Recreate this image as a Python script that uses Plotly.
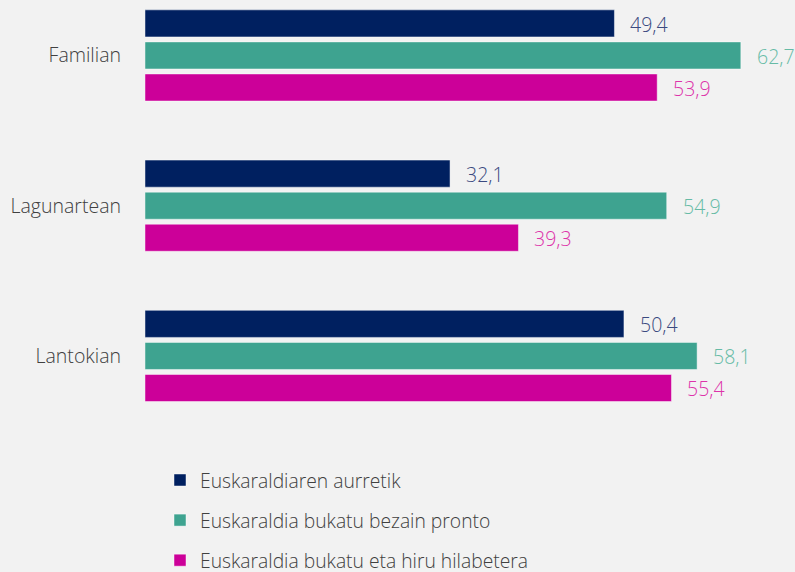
import plotly.graph_objects as go

categories = ["Familian", "Lagunartean", "Lantokian"]
series_names = ["Euskaraldiaren aurretik", "Euskaraldia bukatu bezain pronto",
                "Euskaraldia bukatu eta hiru hilabetera"]
values_before = [49.4, 32.1, 50.4]
values_end = [62.7, 54.9, 58.1]
values_after3 = [53.9, 39.3, 55.4]
label_before = ["49,4", "32,1", "50,4"]
label_end = ["62,7", "54,9", "58,1"]
label_after3 = ["53,9", "39,3", "55,4"]

bar_colors = ["#002060", "#3ea390", "#cc0099"]
text_colors = ["#3a4a80", "#66bba6", "#dd33aa"]

series = [values_before, values_end, values_after3]
labels = [label_before, label_end, label_after3]
label_yshift = [32, 0, -32]

FONT = "Open Sans"
TXT = "#404040"

fig = go.Figure()
annotations = []
for i, (name, vals, labs) in enumerate(zip(series_names, series, labels)):
    fig.add_trace(go.Bar(
        y=categories, x=vals, name=name, orientation="h",
        marker=dict(color=bar_colors[i], line=dict(color="rgba(255,255,255,0.45)", width=1)),
        legendgroup="g%d" % i,
        hoverinfo="skip",
    ))
    for c, v, t in zip(categories, vals, labs):
        annotations.append(dict(
            x=v, y=c, xref="x", yref="y", text=t, showarrow=False,
            xanchor="left", yanchor="middle", xshift=14, yshift=label_yshift[i] - 1,
            font=dict(family=FONT, size=19.5, color=text_colors[i], weight=300),
        ))

fig.update_layout(
    width=795, height=572,
    paper_bgcolor="#f2f2f2", plot_bgcolor="#f2f2f2",
    margin=dict(l=145, r=0, t=0, b=142, autoexpand=False),
    barmode="group", bargap=0.36, bargroupgap=0.156,
    font=dict(family=FONT, size=19, color=TXT, weight=300),
    xaxis=dict(range=[0, 68.4], visible=False, fixedrange=True),
    yaxis=dict(range=[2.493, -0.369], showgrid=False, zeroline=False, showline=False,
               ticks="", ticklabelstandoff=23, fixedrange=True,
               tickfont=dict(family=FONT, size=19.5, color=TXT, weight=300)),
    showlegend=True,
    legend=dict(orientation="v", x=(160 - 145) / 650.0, xanchor="left",
                y=-0.072, yanchor="top",
                font=dict(family=FONT, size=19.3, color=TXT, weight=300),
                tracegroupgap=12, bgcolor="rgba(0,0,0,0)"),
    annotations=annotations,
)
fig.write_html("out.html", config={"displayModeBar": False},
               post_script="document.body.style.margin='0';")
